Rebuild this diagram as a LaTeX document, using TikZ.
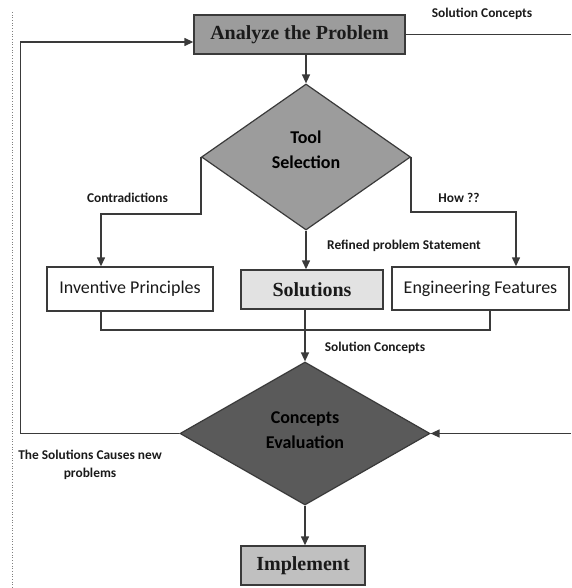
\documentclass[tikz,border=0pt]{standalone}
\usepackage{fontspec}
\setmainfont{Liberation Serif}
\newfontfamily\calfont{Carlito}
\usetikzlibrary{shapes.geometric,arrows.meta,calc}
\definecolor{linec}{HTML}{3A3A3A}
\definecolor{gA}{HTML}{9C9C9C}
\definecolor{gB}{HTML}{5A5A5A}
\definecolor{gC}{HTML}{E2E2E2}
\definecolor{gD}{HTML}{C0C0C0}
\definecolor{txt}{HTML}{1A1A1A}
\begin{document}
\begin{tikzpicture}[x=1pt,y=-1pt,
  line/.style={draw=linec,line width=1.4pt},
  arr/.style={line,-{Triangle[length=9pt,width=8pt]}},
  box/.style={draw=linec,line width=1.4pt,inner sep=0pt,minimum height=39pt,text=txt},
  sbox/.style={box,font=\calfont\fontsize{18}{20}\selectfont,fill=white},
  tbox/.style={box,font=\bfseries\fontsize{20}{22}\selectfont},
  dia/.style={diamond,draw=linec,line width=1.2pt,inner sep=0pt},
  lab/.style={font=\calfont\bfseries\fontsize{13.4}{18}\selectfont,text=txt,inner sep=0pt},
  dtext/.style={font=\calfont\bfseries\fontsize{18}{25}\selectfont,align=center,inner sep=0pt,text=black}]
\path[use as bounding box] (0,0) rectangle (571,588);
\draw[dotted,line width=0.7pt,draw=gray] (12.7,12) -- (12.7,588);

\node[tbox,fill=gA,minimum width=211pt] (analyze) at (299.5,34.5) {Analyze the Problem};
\node[dia,fill=gA,minimum width=209pt,minimum height=146pt] (tool) at (306,157) {};
\node[dtext] (tooltxt) at (306,149.5) {Tool\\Selection};
\node[sbox,minimum width=166pt,minimum height=44pt] (inv) at (130,289) {Inventive Principles};
\node[tbox,fill=gC,minimum width=142pt] (sol) at (312,289.5) {Solutions};
\node[sbox,minimum width=177pt,minimum height=43pt] (eng) at (480.5,288.5) {Engineering Features};
\node[dia,fill=gB,minimum width=250pt,minimum height=143pt] (eval) at (305,433.5) {};
\node[dtext] (evaltxt) at (305,430) {Concepts\\Evaluation};
\node[tbox,fill=gD,minimum width=124pt] (impl) at (303,565.5) {Implement};

\node[lab] (sc1) at (482,14) {Solution Concepts};
\node[lab] (contr) at (127.5,198) {Contradictions};
\node[lab] (how) at (459,198) {How ??};
\node[lab] (refined) at (404,246) {Refined problem Statement};
\node[lab] (sc2) at (375,347.5) {Solution Concepts};
\node[lab,align=center] (causes) at (90,465) {The Solutions Causes new\\problems};

\coordinate (fbL) at (20.5,433.5);
\coordinate (fbT) at (20.5,42);
\draw[arr] (eval.west) -- (fbL) -- (fbT) -- (fbT -| analyze.west);
\coordinate (edgeTop) at (571,34.5);
\draw[line] (analyze.east) -- (edgeTop);
\coordinate (edgeMid) at (571,433.5);
\draw[arr] (edgeMid) -- (eval.east);
\draw[arr] (analyze.south -| tool.north) -- (tool.north);
\coordinate (invIn) at (101,214);
\draw[arr] (tool.west) |- (invIn) -- (invIn |- inv.north);
\coordinate (engIn) at (516,212);
\draw[arr] (tool.east) |- (engIn) -- (engIn |- eng.north);
\draw[arr] (tool.south) -- (tool.south |- sol.north);
\coordinate (jL) at (101,330);
\coordinate (jR) at (490,330);
\draw[line] (jL |- inv.south) -- (jL) -- (jR) -- (jR |- eng.south);
\draw[arr] (eval.north |- sol.south) -- (eval.north);
\draw[arr] (eval.south) -- (eval.south |- impl.north);
\end{tikzpicture}
\end{document}
